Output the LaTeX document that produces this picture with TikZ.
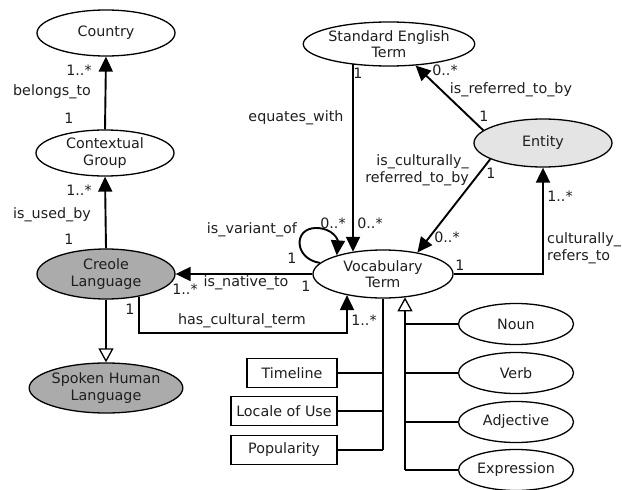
\documentclass[tikz,border=0pt]{standalone}
\usepackage{fontspec}
\setmainfont{DejaVu Sans}
\usetikzlibrary{shapes.geometric,arrows.meta}
\definecolor{txt}{HTML}{1E1E1E}
\definecolor{dgray}{HTML}{ABABAB}
\definecolor{lgray}{HTML}{E4E4E4}
\begin{document}
\begin{tikzpicture}[x=1pt,y=-1pt,
  font=\fontsize{14.3}{16.6}\selectfont, text=txt,
  ent/.style={ellipse, draw=black, line width=1.3pt, inner sep=0pt, align=center, minimum width=138pt, minimum height=46pt},
  sub/.style={ent, minimum width=115pt, minimum height=41pt},
  attr/.style={rectangle, draw=black, line width=1.3pt, inner sep=0pt, minimum height=29pt},
  conn/.style={line width=1.9pt, draw=black},
  assoc/.style={conn, -{Triangle[width=14pt,length=15pt]}},
  gen/.style={conn, -{Triangle[open,width=15pt,length=14pt,line width=1.3pt]}},
  lab/.style={inner sep=0pt, text=txt}]
\useasboundingbox (0,0) rectangle (622,490);

% entities
\node[ent] (co) at (106,33) {Country};
\node[ent] (cg) at (105,153) {Contextual\\Group};
\node[ent, fill=dgray, minimum height=50pt] (cl) at (106,274) {Creole\\Language};
\node[ent, fill=dgray, minimum height=50pt] (sh) at (106,388) {Spoken Human\\Language};
\node[ent, minimum width=140pt, minimum height=44pt] (set) at (389,44) {Standard English\\Term};
\node[ent, fill=lgray, minimum height=48pt] (en) at (543,143) {Entity};
\node[ent, minimum width=140pt, minimum height=48pt] (vt) at (383,274) {Vocabulary\\Term};

\node[sub] (nn) at (516,324) {Noun};
\node[sub] (vb) at (516,373) {Verb};
\node[sub] (aj) at (516,422) {Adjective};
\node[sub] (ex) at (516,470) {Expression};

\node[attr, minimum width=90pt] (tl) at (292,373) {Timeline};
\node[attr, minimum width=106pt] (lu) at (284,411) {Locale of Use};
\node[attr, minimum width=106pt] (pp) at (284,450) {Popularity};

% helper coordinates
\coordinate (hcL) at (139,333);
\coordinate (hcR) at (347,333);
\coordinate (ax) at (383,0);
\coordinate (gx) at (405,0);
\coordinate (eqx) at (353,0);

% associations
\draw[assoc] (cg.north) -- (co.south);
\draw[assoc] (cl.north) -- (cg.south);
\draw[gen] (cl.south) -- (sh.north);
\draw[assoc] (eqx |- set.208) -- (eqx |- vt.144);
\draw[assoc] (en.168) -- (set.-39);
\draw[assoc] (en.197) -- (vt.32);
\draw[assoc] (vt.east) -| (en.south);
\draw[assoc] (vt.west) -- (cl.east);
\draw[assoc] (hcL |- cl.-34) -- (hcL) -- (hcR) -- (hcR |- vt.210);
\draw[assoc] (vt.170) .. controls (294,259) and (293,228) .. (316,228)
   .. controls (333,228) and (338,240) .. (vt.158);

% attributes
\draw[conn] (vt.south) -- (ax |- pp.east);
\draw[conn] (tl.east) -- (tl.east -| ax);
\draw[conn] (lu.east) -- (lu.east -| ax);
\draw[conn] (pp.east) -- (pp.east -| ax);

% subtypes
\draw[gen] (gx |- ex.west) -- (gx |- vt.-46);
\draw[conn] (nn.west) -- (nn.west -| gx);
\draw[conn] (vb.west) -- (vb.west -| gx);
\draw[conn] (aj.west) -- (aj.west -| gx);
\draw[conn] (ex.west) -- (ex.west -| gx);

% labels
\node[lab] (l1) at (79,70) {1..*};
\node[lab] (l2) at (52,92) {belongs\_to};
\node[lab] (l3) at (69,118) {1};
\node[lab] (l4) at (79,190) {1..*};
\node[lab] (l5) at (52,215) {is\_used\_by};
\node[lab] (l6) at (69,239) {1};
\node[lab] (l7) at (296,118) {equates\_with};
\node[lab] (l8) at (358,73) {1};
\node[lab] (l9) at (445,70) {0..*};
\node[lab] (l10) at (511,90) {is\_referred\_to\_by};
\node[lab] (l11) at (484,116) {1};
\node[lab, align=right, anchor=east] (l12) at (469,170) {is\_culturally\_\\referred\_to\_by};
\node[lab] (l13) at (491,173) {1};
\node[lab] (l14) at (333,223) {0..*};
\node[lab] (l15) at (370,223) {0..*};
\node[lab] (l16) at (252,230) {is\_variant\_of};
\node[lab] (l17) at (292,258) {1};
\node[lab] (l18) at (447,237) {0..*};
\node[lab] (l19) at (460,265) {1};
\node[lab] (l20) at (560,196) {1..*};
\node[lab, align=left, anchor=west] (l21) at (547,248) {culturally\_\\refers\_to};
\node[lab] (l22) at (185,289) {1..*};
\node[lab] (l23) at (246,283) {is\_native\_to};
\node[lab] (l24) at (306,286) {1};
\node[lab] (l25) at (130,309) {1};
\node[lab] (l26) at (242,321) {has\_cultural\_term};
\node[lab] (l27) at (364,320) {1..*};
\end{tikzpicture}
\end{document}
